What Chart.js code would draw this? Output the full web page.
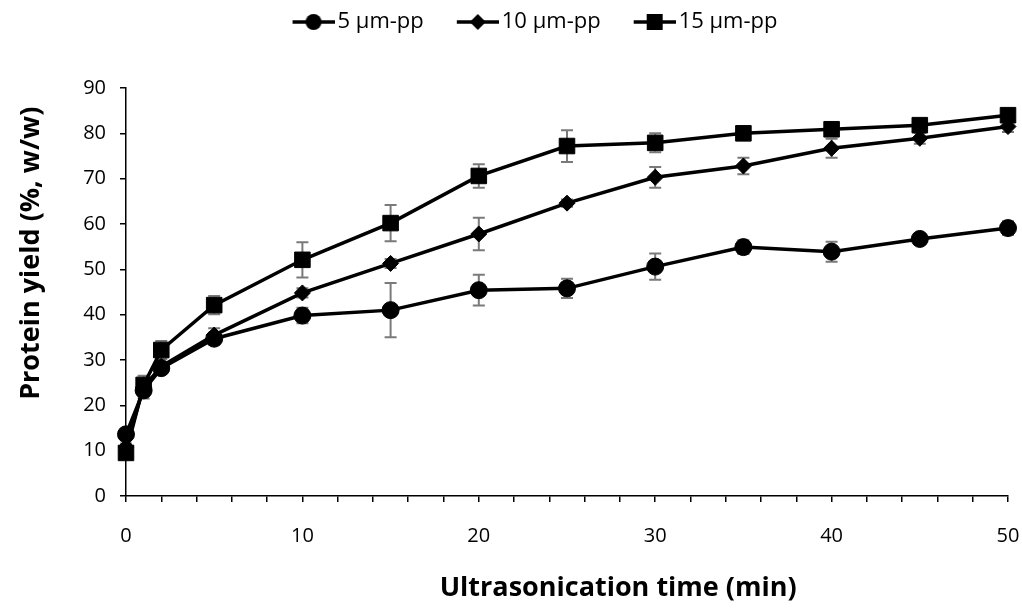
<!DOCTYPE html>
<html>
<head>
<meta charset="utf-8">
<script src="https://cdn.jsdelivr.net/npm/chart.js@4.4.1/dist/chart.umd.min.js"></script>
<style>
body{margin:0;background:#fff}
#wrap{width:1022px;height:610px}
</style>
</head>
<body>
<div id="wrap"><canvas id="c"></canvas></div>
<script>
const times   = [0, 1, 2, 5, 10, 15, 20, 25, 30, 35, 40, 45, 50];
const labels  = ['5 µm-pp', '10 µm-pp', '15 µm-pp'];
const yield5  = [13.6, 23.3, 28.2, 34.7, 39.8, 41.0, 45.4, 45.8, 50.6, 54.9, 53.9, 56.7, 59.1];
const err5    = [0.8, 1.8, 1.0, 1.3, 1.7, 6.0, 3.4, 2.1, 2.9, 1.5, 2.2, 1.0, 1.5];
const yield10 = [10.8, 24.0, 28.6, 35.5, 44.8, 51.3, 57.8, 64.6, 70.3, 72.8, 76.7, 78.9, 81.5];
const err10   = [0.8, 1.5, 1.0, 1.5, 1.0, 1.0, 3.6, 0.8, 2.3, 1.8, 2.1, 1.2, 1.2];
const yield15 = [9.5, 24.5, 32.2, 42.1, 52.1, 60.2, 70.6, 77.2, 77.9, 80.0, 80.9, 81.8, 84.0];
const err15   = [0.8, 2.0, 2.0, 2.0, 3.9, 4.0, 2.6, 3.5, 2.1, 1.0, 1.0, 1.0, 1.0];
const xTitle  = 'Ultrasonication time (min)';
const yTitle  = 'Protein yield (%, w/w)';

const FONT = '"Open Sans", Lato, sans-serif';

// legend symbol: line with marker
function legendIcon(style){
    const c = document.createElement('canvas');
    c.width = 72; c.height = 22;
    const g = c.getContext('2d');
    g.strokeStyle = '#000'; g.lineWidth = 3.5;
    g.beginPath(); g.moveTo(30, 11); g.lineTo(72, 11); g.stroke();
    g.fillStyle = '#000';
    const cx = 51, cy = 11;
    g.beginPath();
    if(style === 'circle'){ g.arc(cx, cy, 8, 0, Math.PI*2); }
    else if(style === 'rectRot'){ g.moveTo(cx, cy-8); g.lineTo(cx+8, cy); g.lineTo(cx, cy+8); g.lineTo(cx-8, cy); g.closePath(); }
    else { g.rect(cx-8, cy-8, 16, 16); }
    g.fill();
    return c;
}
const icons = [legendIcon('circle'), legendIcon('rectRot'), legendIcon('rect')];

function series(ys){ return times.map((t,i)=>({x:t, y:ys[i]})); }

function makeSet(label, ys, errs, style, radius){
    return {
        label: label,
        data: series(ys),
        errors: errs,
        borderColor: '#000',
        backgroundColor: '#000',
        borderWidth: 3.5,
        pointStyle: style,
        pointRadius: radius,
        pointHoverRadius: radius,
        pointBorderWidth: 1,
        tension: 0,
        clip: false
    };
}

const errorBars = {
    id: 'errorBars',
    beforeDatasetsDraw(chart){
        const {ctx, scales:{x, y}} = chart;
        ctx.save();
        ctx.strokeStyle = '#7a7a7a';
        ctx.lineWidth = 2;
        chart.data.datasets.forEach(ds=>{
            ds.data.forEach((p,j)=>{
                const e = ds.errors[j];
                const px = x.getPixelForValue(p.x);
                const top = y.getPixelForValue(p.y + e);
                const bot = y.getPixelForValue(p.y - e);
                ctx.beginPath();
                ctx.moveTo(px, top); ctx.lineTo(px, bot);
                ctx.moveTo(px-6, top); ctx.lineTo(px+6, top);
                ctx.moveTo(px-6, bot); ctx.lineTo(px+6, bot);
                ctx.stroke();
            });
        });
        ctx.restore();
    }
};

// legend gets extra height so the plot starts lower; nudged right a bit
const legendSpace = {
    id: 'legendSpace',
    afterInit(chart){
        const lg = chart.legend;
        const fit = lg.fit.bind(lg);
        lg.fit = function(){ fit(); this.height = 88; };
    },
    afterUpdate(chart){
        chart.legend.left += 20;
        chart.legend.right += 20;
    }
};

// axis titles placed like the original (off-centre)
const axisTitles = {
    id: 'axisTitles',
    afterDraw(chart){
        const {ctx, chartArea:a} = chart;
        ctx.save();
        ctx.fillStyle = '#000';
        ctx.font = 'bold 27px ' + FONT;
        ctx.textAlign = 'center';
        ctx.textBaseline = 'middle';
        ctx.fillText(xTitle, a.left + (a.right - a.left) * 0.558, a.bottom + 92);
        ctx.translate(31, a.top + (a.bottom - a.top) * 0.405);
        ctx.rotate(-Math.PI/2);
        ctx.fillText(yTitle, 0, 0);
        ctx.restore();
    }
};

new Chart(document.getElementById('c'), {
    type: 'line',
    data: {
        datasets: [
            makeSet(labels[0], yield5, err5, 'circle', 8.5),
            makeSet(labels[1], yield10, err10, 'rectRot', 8),
            makeSet(labels[2], yield15, err15, 'rect', 11)
        ]
    },
    options: {
        responsive: true,
        maintainAspectRatio: false,
        animation: false,
        layout: { padding: { left: 0, right: 14, top: 0, bottom: 0 } },
        plugins: {
            tooltip: { enabled: false },
            legend: {
                position: 'top',
                labels: {
                    color: '#000',
                    font: { family: FONT, size: 22 },
                    usePointStyle: true,
                    pointStyleWidth: 56,
                    boxHeight: 20,
                    padding: 11,
                    generateLabels(chart){
                        const items = Chart.defaults.plugins.legend.labels.generateLabels(chart);
                        items.forEach((it,i)=>{ it.pointStyle = icons[i]; });
                        return items;
                    }
                }
            }
        },
        scales: {
            x: {
                type: 'linear',
                min: 0, max: 50,
                afterFit(s){ s.height = 114; s.paddingLeft = 0; s.paddingRight = 0; },
                border: { color: '#000', width: 1.5 },
                grid: { drawOnChartArea: false, drawTicks: true, tickLength: 6, tickColor: '#000', lineWidth: 1.5 },
                ticks: {
                    stepSize: 2,
                    autoSkip: false,
                    maxRotation: 0,
                    padding: 22,
                    color: '#000',
                    font: { family: FONT, size: 20 },
                    callback: v => (v % 10 === 0 ? v : '')
                }
            },
            y: {
                min: 0, max: 90,
                afterFit(s){ s.width = 126; s.paddingTop = 0; s.paddingBottom = 0; },
                border: { color: '#000', width: 1.5 },
                grid: { drawOnChartArea: false, drawTicks: true, tickLength: 6, tickColor: '#000', lineWidth: 1.5 },
                ticks: {
                    stepSize: 10,
                    padding: 14,
                    color: '#000',
                    font: { family: FONT, size: 20 }
                }
            }
        }
    },
    plugins: [errorBars, legendSpace, axisTitles]
});
</script>
</body>
</html>
